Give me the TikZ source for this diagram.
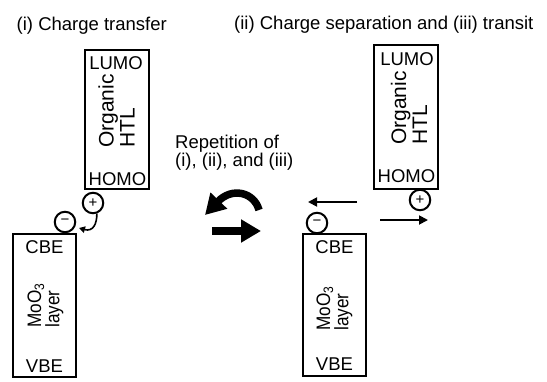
\documentclass[tikz,border=0pt]{standalone}
\usepackage{fontspec}
\usepackage{graphicx}
\setmainfont{Liberation Sans}
\usetikzlibrary{arrows.meta}
\begin{document}
\begin{tikzpicture}[x=1pt,y=-1pt,
  lbl/.style={font=\fontsize{18.5}{17}\selectfont, inner sep=0pt},
  vlbl/.style={font=\fontsize{21}{21}\selectfont, inner sep=0pt, rotate=90, anchor=west, align=left},
  mlbl/.style={font=\fontsize{19.5}{16.5}\selectfont, inner sep=0pt, rotate=90, anchor=west, align=left},
  layerbox/.style={draw, line width=2pt, inner sep=0pt},
  charge/.style={draw, circle, line width=2pt, minimum size=20.5pt, inner sep=0pt, font=\fontsize{15}{15}\selectfont},
  thinarrow/.style={line width=1.8pt, -{Triangle[length=9pt,width=9pt]}},
  smallarrow/.style={line width=1.6pt, -{Triangle[length=6pt,width=6.5pt]}},
  bigarrow/.style={line width=7.5pt, -{Triangle[length=20pt,width=22pt]}}]
\useasboundingbox (0,0) rectangle (547,381);

% titles
\node[lbl, anchor=west] (t1) at (16.5,25.5) {(i) Charge transfer};
\node[lbl, anchor=west] (t2) at (234,25) {(ii) Charge separation and (iii) transit};
\node[lbl, anchor=west, align=left] (rep) at (175,153) {Repetition of\\(i), (ii), and (iii)};

% left panel
\node[layerbox, minimum width=64pt, minimum height=139pt] (htlL) at (117,119.5) {};
\node[lbl] (lumoL) at (116,63.5) {LUMO};
\node[lbl] (homoL) at (117.5,179.5) {HOMO};
\node[vlbl] (orgL) at (116.5,148) {Organic\\HTL};
\node[layerbox, minimum width=63pt, minimum height=143pt] (mooL) at (44.5,305.5) {};
\node[lbl] (cbeL) at (44.5,247) {CBE};
\node[lbl] (vbeL) at (44.5,366) {VBE};
\node[mlbl] (molL) at (45.5,328) {\scalebox{0.88}[1]{MoO\textsubscript{3}}\\\scalebox{0.88}[1]{layer}};
\node[charge] (plusL) at (93,203) {+};
\node[charge] (minusL) at (65,222) {−};
\coordinate (tipL) at (79,228);
\draw[smallarrow] (plusL.-70) .. controls (97,224) and (93,232) .. (tipL);

% middle arrows
\coordinate (cA) at (259,210);
\coordinate (cB) at (205,215);
\draw[bigarrow] (cA) .. controls (254,192) and (232,187) .. (cB);
\coordinate (sA) at (212,231);
\coordinate (sB) at (261,231);
\draw[bigarrow] (sA) -- (sB);

% right panel
\node[layerbox, minimum width=64pt, minimum height=144pt] (htlR) at (406,117) {};
\node[lbl] (lumoR) at (407,59.5) {LUMO};
\node[lbl] (homoR) at (406.5,176) {HOMO};
\node[vlbl] (orgR) at (409,145) {Organic\\HTL};
\node[layerbox, minimum width=63pt, minimum height=142pt] (mooR) at (334.5,305) {};
\node[lbl] (cbeR) at (334.5,247) {CBE};
\node[lbl] (vbeR) at (334.5,364) {VBE};
\node[mlbl] (molR) at (334.5,331) {\scalebox{0.88}[1]{MoO\textsubscript{3}}\\\scalebox{0.88}[1]{layer}};
\node[charge] (plusR) at (420,200) {+};
\node[charge] (minusR) at (317,223) {−};
\coordinate (a1s) at (357,202);
\coordinate (a1e) at (308,202);
\draw[thinarrow] (a1s) -- (a1e);
\coordinate (a2s) at (380,220);
\coordinate (a2e) at (428,220);
\draw[thinarrow] (a2s) -- (a2e);
\end{tikzpicture}
\end{document}
